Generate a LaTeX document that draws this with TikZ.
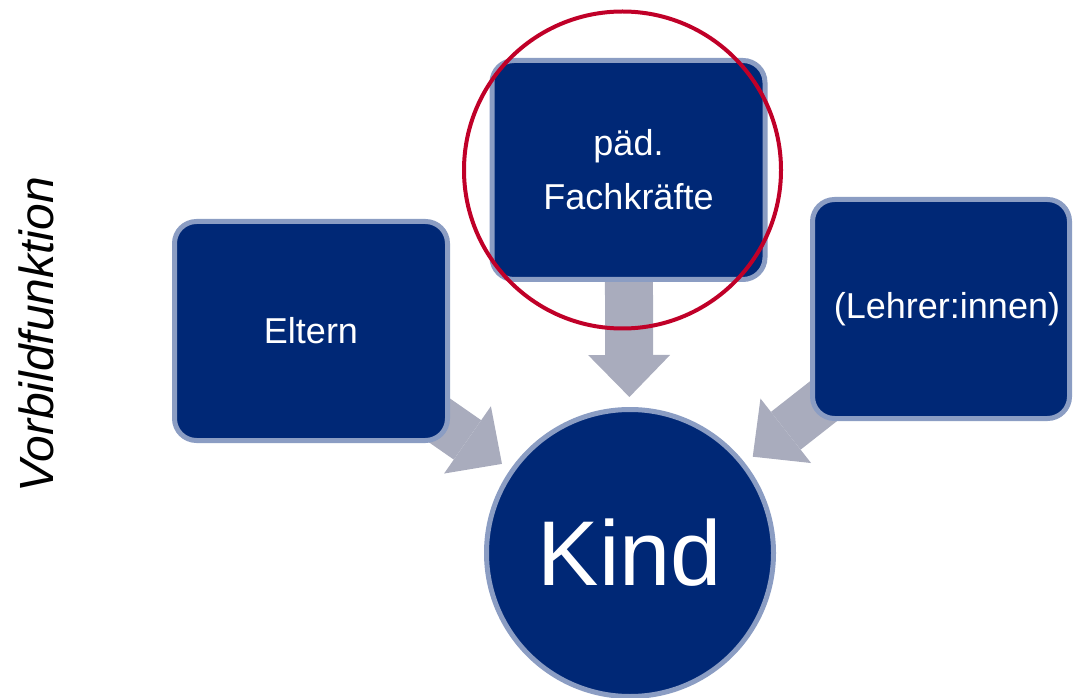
\documentclass[tikz,border=0pt]{standalone}
\usepackage{fontspec}
\setmainfont{Liberation Sans}
\usetikzlibrary{arrows.meta,backgrounds}
\definecolor{navy}{HTML}{002876}
\definecolor{rim}{HTML}{8B9DC3}
\definecolor{agrey}{HTML}{A9ACBD}
\definecolor{hlred}{HTML}{C00028}
\begin{document}
\begin{tikzpicture}[x=1pt,y=1pt,
  box/.style={draw=rim, fill=navy, line width=5pt, rounded corners=22pt,
    minimum width=273pt, minimum height=219pt, text=white,
    font=\fontsize{36}{54}\selectfont, align=center, inner sep=0pt},
  kindnode/.style={circle, draw=rim, fill=navy, line width=5pt,
    minimum size=287pt, text=white, font=\fontsize{92}{110}\selectfont, inner sep=0pt},
  highlight/.style={circle, draw=hlred, line width=4pt, minimum size=317pt, inner sep=0pt},
  blockarrow/.style={draw=agrey, line width=48pt,
    -{Triangle[width=82pt,length=42pt,line width=0pt]}, shorten >=10pt},
  side/.style={rotate=90, font=\fontsize{48}{58}\selectfont\itshape, inner sep=0pt}]
\useasboundingbox (0,0) rectangle (1073,697);
\node[box] (eltern) at (311,366) {Eltern};
\node[box] (fach) at (628.5,527) {päd.\\Fachkräfte};
\node[box, minimum width=257pt] (lehrer) at (941,388) {\hspace*{12pt}(Lehrer:innen)};
\node[kindnode] (kind) at (630,144) {Kind};
\node[highlight] (ring) at (622.5,527) {};
\node[side] (vorbild) at (36,362) {Vorbildfunktion};
\begin{scope}[on background layer]
  \draw[blockarrow] (eltern.center) -- (kind);
  \draw[blockarrow] (fach.center) -- (kind);
  \draw[blockarrow] (lehrer.center) -- (kind);
\end{scope}
\end{tikzpicture}
\end{document}
